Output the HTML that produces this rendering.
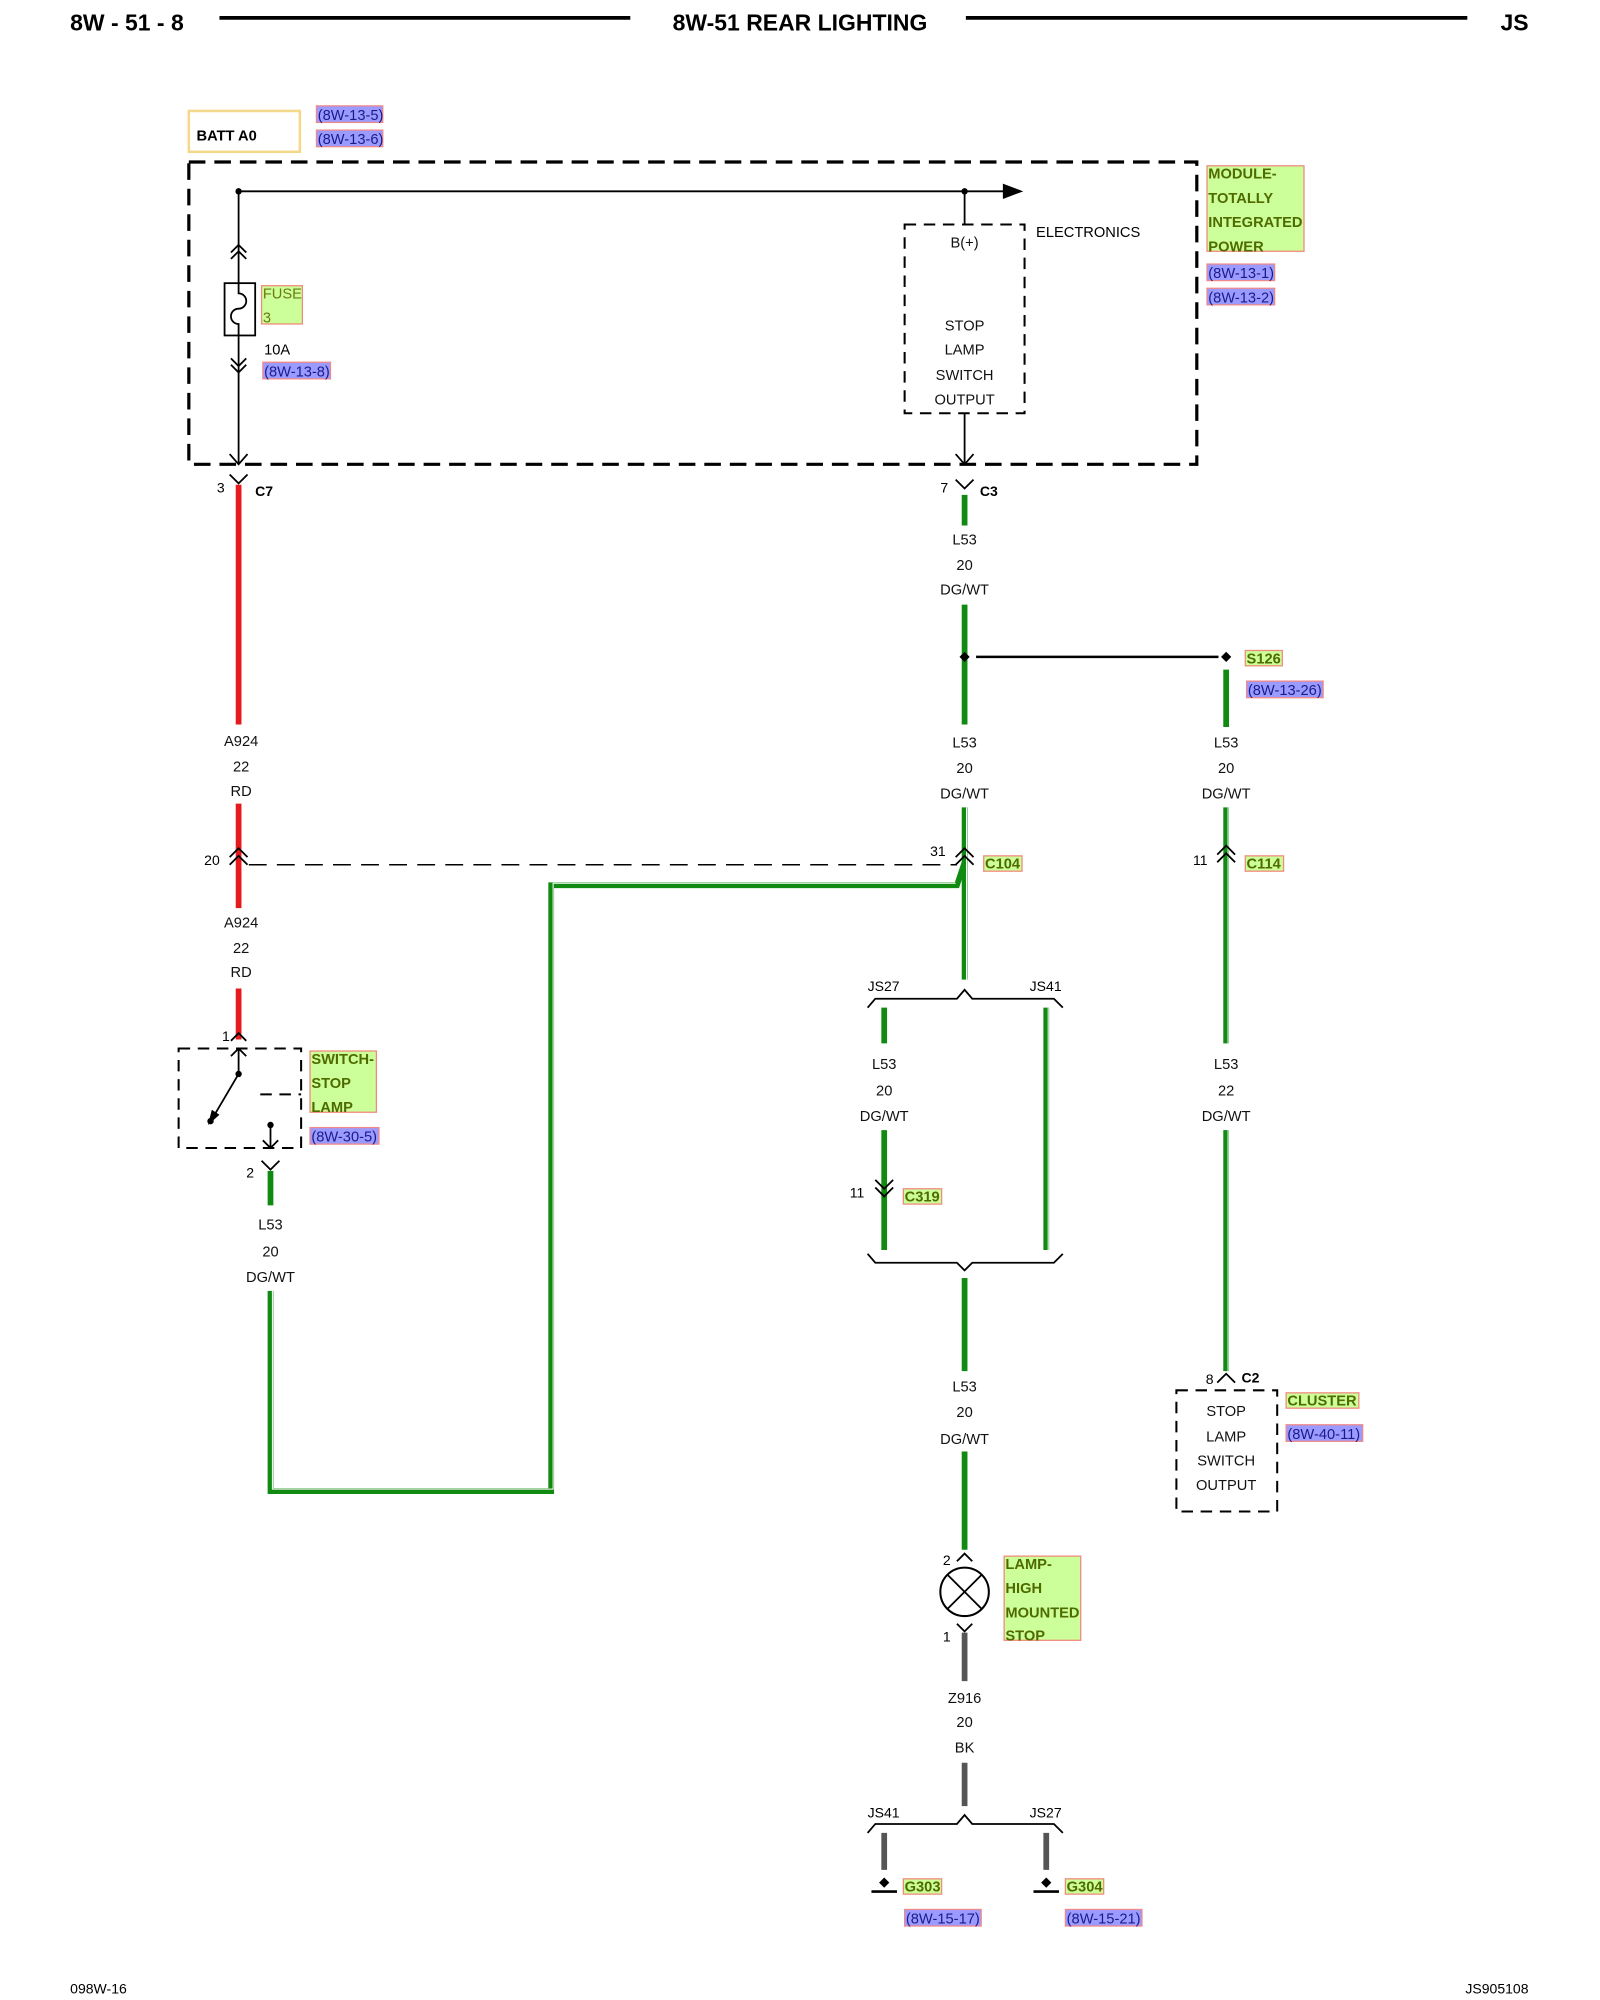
<!DOCTYPE html>
<html><head><meta charset="utf-8"><style>
html,body{margin:0;padding:0;background:#fff;}
svg{display:block;}
text{font-family:"Liberation Sans",Arial,sans-serif;}
.t{font-size:11.5px;fill:#111;text-anchor:middle;}
.g{font-size:11.5px;fill:#4f6b00;font-weight:bold;}
.b{font-size:11.5px;fill:#1a1a8c;}
.gb{fill:#ccff99;stroke:#f08a7a;stroke-width:1;}
.bb{fill:#9b9bff;stroke:#f08a8a;stroke-width:1;}
.gr{stroke:#118a11;stroke-width:4.5;fill:none;}
.gri{stroke:#fff;stroke-width:0.8;fill:none;}
.rd{stroke:#e51b1b;stroke-width:4.5;fill:none;}
.gy{stroke:#555;stroke-width:4.5;fill:none;}
.k{stroke:#000;stroke-width:1.4;fill:none;}
.d{stroke:#000;stroke-width:2.5;fill:none;stroke-dasharray:13,7;}
.d2{stroke:#000;stroke-width:1.6;fill:none;stroke-dasharray:9,6;}
</style></head><body>
<svg width="1600" height="2000" viewBox="0 0 1254 1568" preserveAspectRatio="none" xmlns="http://www.w3.org/2000/svg">
<!-- header -->
<text x="55" y="24" style="font-size:18px;font-weight:bold">8W - 51 - 8</text>
<line x1="172" y1="14" x2="494" y2="14" stroke="#000" stroke-width="3"/>
<text x="627" y="24" style="font-size:18px;font-weight:bold" text-anchor="middle">8W-51 REAR LIGHTING</text>
<line x1="757" y1="14" x2="1150" y2="14" stroke="#000" stroke-width="3"/>
<text x="1176" y="24" style="font-size:18px;font-weight:bold">JS</text>

<!-- BATT -->
<rect x="148" y="87" width="87" height="32" fill="none" stroke="#f5d98a" stroke-width="2"/>
<text x="154" y="110" style="font-size:11.5px;font-weight:bold">BATT A0</text>
<rect class="bb" x="248" y="83" width="52" height="13"/><text class="b" x="249" y="94">(8W-13-5)</text>
<rect class="bb" x="248" y="102" width="52" height="13"/><text class="b" x="249" y="113">(8W-13-6)</text>

<!-- module -->
<rect class="d" x="148" y="127" width="790" height="237"/>
<rect class="gb" x="946" y="130" width="76" height="67"/>
<text class="g" x="947" y="140">MODULE-</text><text class="g" x="947" y="159">TOTALLY</text><text class="g" x="947" y="178">INTEGRATED</text><text class="g" x="947" y="197">POWER</text>
<rect class="bb" x="946" y="207" width="53" height="13"/><text class="b" x="947" y="218">(8W-13-1)</text>
<rect class="bb" x="946" y="226" width="53" height="13"/><text class="b" x="947" y="237">(8W-13-2)</text>

<line class="k" x1="187" y1="150" x2="187" y2="364"/>
<line class="k" x1="187" y1="150" x2="790" y2="150"/>
<polygon points="786,144 802,150 786,156" fill="#000"/>
<circle cx="187" cy="150" r="2.5" fill="#000"/><circle cx="756" cy="150" r="2.5" fill="#000"/>
<line class="k" x1="756" y1="150" x2="756" y2="176"/>
<rect class="d2" x="709" y="176" width="94" height="148"/>
<text class="t" x="756" y="194">B(+)</text>
<text class="t" x="756" y="259">STOP</text><text class="t" x="756" y="278">LAMP</text><text class="t" x="756" y="298">SWITCH</text><text class="t" x="756" y="317">OUTPUT</text>
<text x="812" y="186" style="font-size:11.5px">ELECTRONICS</text>
<line class="k" x1="756" y1="324" x2="756" y2="364"/>
<polyline class="k" points="749,356 756,364 763,356"/>
<polyline class="k" points="180,356 187,364 194,356"/>

<!-- fuse -->
<polyline class="k" points="181,198 187,192 193,198"/><polyline class="k" points="181,203 187,197 193,203"/>
<rect x="176" y="222" width="24" height="41" fill="#fff" stroke="#000" stroke-width="1.4"/>
<path d="M187,222 v8 a6,6 0 0 1 0,12 a6,6 0 0 0 0,12 v9" class="k"/>
<polyline class="k" points="181,281 187,287 193,281"/><polyline class="k" points="181,286 187,292 193,286"/>
<rect class="gb" x="205" y="224" width="32" height="30"/>
<text x="206" y="234" style="font-size:11.5px;fill:#6b7a10">FUSE</text><text x="206" y="253" style="font-size:11.5px;fill:#6b7a10">3</text>
<text x="207" y="278" style="font-size:11.5px">10A</text>
<rect class="bb" x="206" y="284" width="53" height="13"/><text class="b" x="207" y="295">(8W-13-8)</text>

<!-- left red wire -->
<polyline class="k" points="180,372 187,379 194,372"/>
<text x="170" y="386" style="font-size:11px">3</text>
<text x="200" y="389" style="font-size:11px;font-weight:bold">C7</text>
<line class="rd" x1="187" y1="380" x2="187" y2="568"/>
<text class="t" x="189" y="585">A924</text><text class="t" x="189" y="605">22</text><text class="t" x="189" y="624">RD</text>
<line class="rd" x1="187" y1="630" x2="187" y2="712"/>
<polyline class="k" points="180,672 187,665 194,672"/><polyline class="k" points="180,678 187,671 194,678"/>
<text x="160" y="678" style="font-size:11px">20</text>
<text class="t" x="189" y="727">A924</text><text class="t" x="189" y="747">22</text><text class="t" x="189" y="766">RD</text>
<line class="rd" x1="187" y1="775" x2="187" y2="815"/>
<line x1="195" y1="678" x2="750" y2="678" stroke="#000" stroke-width="1.2" stroke-dasharray="14,8"/>

<!-- switch -->
<text x="174" y="816" style="font-size:11px">1</text>
<polyline class="k" points="181,816 187,810 193,816"/>
<rect class="d2" x="140" y="822" width="96" height="78"/>
<line class="k" x1="187" y1="822" x2="187" y2="842"/>
<polyline class="k" points="181,828 187,822 193,828"/>
<line class="k" x1="187" y1="842" x2="167" y2="876"/>
<polygon points="163,882 166,870 172,874" fill="#000"/>
<circle cx="187" cy="842" r="2.5" fill="#000"/><circle cx="165" cy="879" r="2.5" fill="#000"/>
<line x1="204" y1="858" x2="236" y2="858" class="d2"/>
<line class="k" x1="212" y1="882" x2="212" y2="900"/><circle cx="212" cy="882" r="2.5" fill="#000"/>
<polyline class="k" points="206,894 212,900 218,894"/>
<rect class="gb" x="243" y="824" width="52" height="48"/>
<text class="g" x="244" y="834">SWITCH-</text><text class="g" x="244" y="853">STOP</text><text class="g" x="244" y="872">LAMP</text>
<rect class="bb" x="243" y="884" width="54" height="13"/><text class="b" x="244" y="895">(8W-30-5)</text>
<text x="193" y="923" style="font-size:11px">2</text>
<polyline class="k" points="205,910 212,917 219,910"/>
<line class="gr" x1="212" y1="918" x2="212" y2="945"/>
<text class="t" x="212" y="964">L53</text><text class="t" x="212" y="985">20</text><text class="t" x="212" y="1005">DG/WT</text>
<polyline class="gr" points="212,1012 212,1169 432,1169 432,694 750,694 756,676"/>
<polyline class="gri" points="213.5,1012 213.5,1167.5 433.5,1167.5 433.5,692.5 749,692.5"/>

<!-- center wire -->
<polyline class="k" points="749,376 756,383 763,376"/>
<text x="737" y="386" style="font-size:11px">7</text>
<text x="768" y="389" style="font-size:11px;font-weight:bold">C3</text>
<line class="gr" x1="756" y1="388" x2="756" y2="412"/>
<text class="t" x="756" y="427">L53</text><text class="t" x="756" y="447">20</text><text class="t" x="756" y="466">DG/WT</text>
<line class="gr" x1="756" y1="474" x2="756" y2="568"/>
<line x1="765" y1="515" x2="955" y2="515" stroke="#000" stroke-width="2"/>
<polygon points="756,511 760,515 756,519 752,515" fill="#000"/>
<polygon points="961,511 965,515 961,519 957,515" fill="#000"/>
<rect class="gb" x="976" y="510" width="29" height="12"/><text class="g" x="977" y="520">S126</text>
<rect class="bb" x="977" y="534" width="60" height="13"/><text class="b" x="978" y="545">(8W-13-26)</text>
<text class="t" x="756" y="586">L53</text><text class="t" x="756" y="606">20</text><text class="t" x="756" y="626">DG/WT</text>
<line class="gr" x1="756" y1="633" x2="756" y2="768"/>
<line class="gri" x1="757.5" y1="633" x2="757.5" y2="768"/>
<polyline class="k" points="749,672 756,665 763,672"/><polyline class="k" points="749,678 756,671 763,678"/>
<text x="729" y="671" style="font-size:11px">31</text>
<rect class="gb" x="771" y="671" width="30" height="12"/><text class="g" x="772" y="681">C104</text>

<!-- split -->
<polyline class="k" points="680,790 686,783 750,783 756,776 762,783 826,783 833,790"/>
<text x="680" y="777" style="font-size:11px">JS27</text><text x="807" y="777" style="font-size:11px">JS41</text>
<line class="gr" x1="693" y1="790" x2="693" y2="818"/>
<line class="gr" x1="820" y1="790" x2="820" y2="980"/>
<line class="gri" x1="821.5" y1="790" x2="821.5" y2="980"/>
<text class="t" x="693" y="838">L53</text><text class="t" x="693" y="859">20</text><text class="t" x="693" y="879">DG/WT</text>
<line class="gr" x1="693" y1="886" x2="693" y2="980"/>
<polyline class="k" points="686,925 693,932 700,925"/><polyline class="k" points="686,931 693,938 700,931"/>
<text x="666" y="939" style="font-size:11px">11</text>
<rect class="gb" x="708" y="932" width="30" height="12"/><text class="g" x="709" y="942">C319</text>
<polyline class="k" points="680,983 686,990 750,990 756,996 762,990 826,990 833,983"/>
<line class="gr" x1="756" y1="1002" x2="756" y2="1075"/>
<text class="t" x="756" y="1091">L53</text><text class="t" x="756" y="1111">20</text><text class="t" x="756" y="1132">DG/WT</text>
<line class="gr" x1="756" y1="1138" x2="756" y2="1215"/>
<polyline class="k" points="750,1224 756,1218 762,1224"/>
<text x="739" y="1227" style="font-size:11px">2</text>
<circle cx="756" cy="1248" r="19" fill="#fff" stroke="#000" stroke-width="1.6"/>
<line class="k" x1="743" y1="1235" x2="769" y2="1261"/><line class="k" x1="769" y1="1235" x2="743" y2="1261"/>
<polyline class="k" points="750,1273 756,1279 762,1273"/>
<text x="739" y="1287" style="font-size:11px">1</text>
<rect class="gb" x="787" y="1220" width="60" height="66"/>
<text class="g" x="788" y="1230">LAMP-</text><text class="g" x="788" y="1249">HIGH</text><text class="g" x="788" y="1268">MOUNTED</text><text class="g" x="788" y="1286">STOP</text>
<line class="gy" x1="756" y1="1280" x2="756" y2="1318"/>
<text class="t" x="756" y="1335">Z916</text><text class="t" x="756" y="1354">20</text><text class="t" x="756" y="1374">BK</text>
<line class="gy" x1="756" y1="1382" x2="756" y2="1416"/>
<polyline class="k" points="680,1437 686,1430 750,1430 756,1423 762,1430 826,1430 833,1437"/>
<text x="680" y="1425" style="font-size:11px">JS41</text><text x="807" y="1425" style="font-size:11px">JS27</text>
<line class="gy" x1="693" y1="1437" x2="693" y2="1466"/>
<line class="gy" x1="820" y1="1437" x2="820" y2="1466"/>
<polygon points="693,1472 697,1476 693,1480 689,1476" fill="#000"/>
<line x1="683" y1="1483" x2="703" y2="1483" stroke="#000" stroke-width="2"/>
<polygon points="820,1472 824,1476 820,1480 816,1476" fill="#000"/>
<line x1="810" y1="1483" x2="830" y2="1483" stroke="#000" stroke-width="2"/>
<rect class="gb" x="708" y="1473" width="30" height="12"/><text class="g" x="709" y="1483">G303</text>
<rect class="gb" x="835" y="1473" width="30" height="12"/><text class="g" x="836" y="1483">G304</text>
<rect class="bb" x="709" y="1497" width="60" height="13"/><text class="b" x="710" y="1508">(8W-15-17)</text>
<rect class="bb" x="835" y="1497" width="60" height="13"/><text class="b" x="836" y="1508">(8W-15-21)</text>

<!-- right wire -->
<line class="gr" x1="961" y1="525" x2="961" y2="570"/>
<text class="t" x="961" y="586">L53</text><text class="t" x="961" y="606">20</text><text class="t" x="961" y="626">DG/WT</text>
<line class="gr" x1="961" y1="633" x2="961" y2="818"/>
<line class="gri" x1="962.5" y1="633" x2="962.5" y2="818"/>
<polyline class="k" points="954,670 961,663 968,670"/><polyline class="k" points="954,676 961,669 968,676"/>
<text x="935" y="678" style="font-size:11px">11</text>
<rect class="gb" x="976" y="671" width="30" height="12"/><text class="g" x="977" y="681">C114</text>
<text class="t" x="961" y="838">L53</text><text class="t" x="961" y="859">22</text><text class="t" x="961" y="879">DG/WT</text>
<line class="gr" x1="961" y1="886" x2="961" y2="1075"/>
<line class="gri" x1="962.5" y1="886" x2="962.5" y2="1075"/>
<polyline class="k" points="954,1084 961,1077 968,1084"/>
<text x="945" y="1085" style="font-size:11px">8</text>
<text x="973" y="1084" style="font-size:11px;font-weight:bold">C2</text>
<rect class="d2" x="922" y="1090" width="79" height="95" stroke-width="2.2"/>
<text class="t" x="961" y="1110">STOP</text><text class="t" x="961" y="1130">LAMP</text><text class="t" x="961" y="1149">SWITCH</text><text class="t" x="961" y="1168">OUTPUT</text>
<rect class="gb" x="1008" y="1092" width="57" height="12"/><text class="g" x="1009" y="1102">CLUSTER</text>
<rect class="bb" x="1008" y="1117" width="60" height="13"/><text class="b" x="1009" y="1128">(8W-40-11)</text>

<!-- footer -->
<text x="55" y="1563" style="font-size:11px">098W-16</text>
<text x="1198" y="1563" style="font-size:11px" text-anchor="end">JS905108</text>
</svg>
</body></html>
